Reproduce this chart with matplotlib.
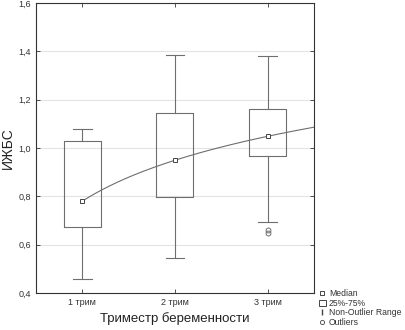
import numpy as np
import matplotlib.pyplot as plt
from matplotlib.lines import Line2D
from matplotlib.patches import Rectangle

plt.rcParams['font.family'] = ['Liberation Sans', 'DejaVu Sans']

groups = ['1 трим', '2 трим', '3 трим']
medians = [0.78, 0.95, 1.048]
q25 = [0.672, 0.796, 0.967]
q75 = [1.028, 1.144, 1.16]
whisk_lo = [0.457, 0.545, 0.695]
whisk_hi = [1.077, 1.385, 1.381]
outliers = [[], [], [0.66, 0.648]]

stats = []
for i, g in enumerate(groups):
    stats.append(dict(label=g, med=medians[i], q1=q25[i], q3=q75[i],
                      whislo=whisk_lo[i], whishi=whisk_hi[i], fliers=outliers[i]))

fig = plt.figure(figsize=(4.05, 3.3), dpi=100)
ax = fig.add_axes([0.089, 0.112, 0.686, 0.879])

col = '#6e6e6e'
pos = [1, 2, 3]
ax.bxp(stats, positions=pos, widths=0.4, showfliers=True,
       boxprops=dict(color=col, lw=0.8),
       whiskerprops=dict(color=col, lw=0.8),
       capprops=dict(color=col, lw=0.8),
       medianprops=dict(lw=0),
       flierprops=dict(marker='o', markersize=3.5, markerfacecolor='none',
                       markeredgecolor=col, markeredgewidth=0.7),
       capwidths=0.2)

# log fit through medians
b, a = np.polyfit(np.log(pos), medians, 1)
xs = np.linspace(1, 3.5, 200)
ax.plot(xs, a + b * np.log(xs), color=col, lw=0.8, zorder=3)
ax.plot(pos, medians, 's', markersize=3.2, markerfacecolor='white',
        markeredgecolor='#444444', markeredgewidth=0.7, zorder=4)

ax.set_xlim(0.5, 3.5)
ax.set_ylim(0.4, 1.6)
ax.set_yticks(np.arange(0.4, 1.61, 0.2))
ax.set_yticklabels([f'{v:.1f}'.replace('.', ',') for v in np.arange(0.4, 1.61, 0.2)])
ax.set_xticks(pos)
ax.set_xticklabels(groups)
ax.tick_params(labelsize=6.5, colors='#333333', length=3, width=0.6,
               top=True, right=True, direction='in')
ax.grid(axis='y', color='#e3e3e3', lw=0.8)
ax.set_axisbelow(True)
for s in ax.spines.values():
    s.set_color('#333333')
    s.set_linewidth(0.8)

ax.set_ylabel('ИЖБС', fontsize=10, color='#222222', labelpad=3)
ax.set_xlabel('Триместр беременности', fontsize=9.5, color='#222222', labelpad=4)

handles = [
    Line2D([], [], ls='none', marker='s', markersize=3.2, markerfacecolor='white',
           markeredgecolor='#444444', markeredgewidth=0.7),
    Rectangle((0, 0), 1, 1, facecolor='white', edgecolor='#444444', lw=0.7),
    Line2D([], [], ls='none', marker='$\\mathrm{I}$', markersize=5, color='#444444'),
    Line2D([], [], ls='none', marker='o', markersize=3, markerfacecolor='none',
           markeredgecolor='#444444', markeredgewidth=0.6),
]
labels = ['Median', '25%-75%', 'Non-Outlier Range', 'Outliers']
fig.legend(handles, labels, loc='lower left', bbox_to_anchor=(0.772, -0.01),
           frameon=False, fontsize=6.2, handlelength=0.8, handletextpad=0.4,
           labelspacing=0.1, borderpad=0.2, labelcolor='#333333')

fig.savefig('out.png', dpi=100)
